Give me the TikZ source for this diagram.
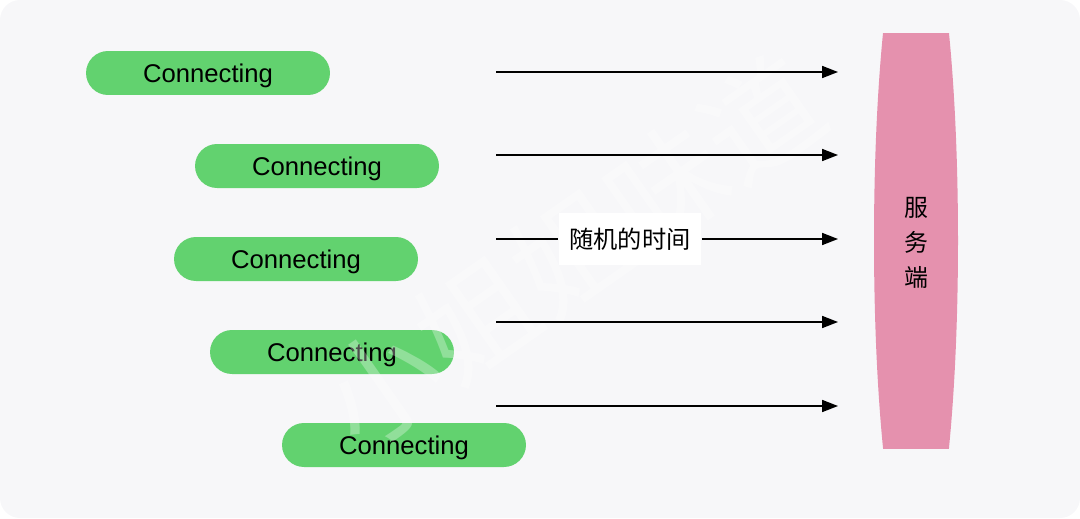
\documentclass[tikz,border=0pt]{standalone}
\usepackage{fontspec}
\setmainfont{Liberation Sans}
\newfontfamily\cjk{Noto Sans CJK SC}
\usetikzlibrary{arrows.meta,shapes.misc}
\definecolor{bggray}{HTML}{F7F7F9}
\definecolor{pillgreen}{HTML}{62D26F}
\definecolor{serverpink}{HTML}{E591AE}

\tikzset{
	conn/.style={rounded rectangle,fill=pillgreen,minimum width=4.88cm,minimum height=0.88cm,
		inner sep=0pt,text depth=0pt,font=\fontsize{14.6}{16}\selectfont},
	req/.style={line width=0.85pt,-{Triangle[length=9pt,width=6.8pt]}},
}

\begin{document}
\begin{tikzpicture}[x=0.02cm,y=-0.02cm]
\useasboundingbox (0,0) rectangle (1080,518);
\fill[bggray,rounded corners=0.4cm] (0,0) rectangle (1080,518);

% clients
\node[conn] (C1) at (208,73) {Connecting};
\node[conn] (C2) at (317,166) {Connecting};
\node[conn] (C3) at (296,259) {Connecting};
\node[conn] (C4) at (332,352) {Connecting};
\node[conn] (C5) at (404,445) {Connecting};

% server
\begin{scope}
\clip (870,33) rectangle (962,448);
\fill[serverpink] (916,240.5) ellipse [x radius=42,y radius=335];
\end{scope}
\node[align=center,font=\cjk\fontsize{13.6}{19.8}\selectfont] (S) at (916,243) {服\\务\\端};

% watermark
\node[white,opacity=0.3,rotate=35,font=\cjk\fontsize{66}{66}\selectfont] (W) at (572,252) {小姐姐味道};

% requests
\coordinate (A1) at (496,72);  \coordinate (B1) at (838,72);
\coordinate (A2) at (496,155); \coordinate (B2) at (838,155);
\coordinate (A3) at (496,239); \coordinate (B3) at (838,239);
\coordinate (A4) at (496,322); \coordinate (B4) at (838,322);
\coordinate (A5) at (496,406); \coordinate (B5) at (838,406);

\node[fill=white,minimum width=2.86cm,minimum height=1.04cm,inner sep=0pt,
	font=\cjk\fontsize{13.8}{16}\selectfont] (T) at (630,239) {随机的时间};

\draw[req] (A1) -- (B1);
\draw[req] (A2) -- (B2);
\draw[line width=0.85pt] (A3) -- (T.west);
\draw[req] (T.east) -- (B3);
\draw[req] (A4) -- (B4);
\draw[req] (A5) -- (B5);
\end{tikzpicture}
\end{document}
